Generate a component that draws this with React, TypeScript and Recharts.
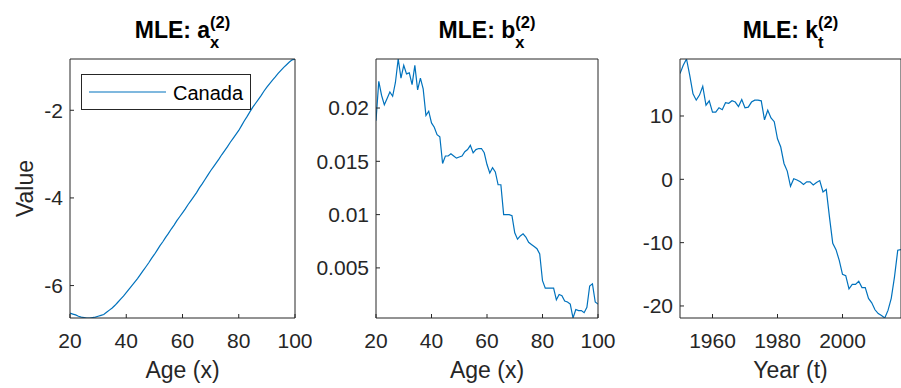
import React from 'react';
import { LineChart, Line, XAxis, YAxis, Legend } from 'recharts';

const FONT = '"Liberation Sans", Arial, Helvetica, sans-serif';
const AXIS = '#262626';
const BLUE = '#0072BD';

const ages = [20, 21, 22, 23, 24, 25, 26, 27, 28, 29, 30, 31, 32, 33, 34, 35, 36, 37, 38, 39, 40, 41, 42, 43, 44, 45, 46, 47, 48, 49, 50, 51, 52, 53, 54, 55, 56, 57, 58, 59, 60, 61, 62, 63, 64, 65, 66, 67, 68, 69, 70, 71, 72, 73, 74, 75, 76, 77, 78, 79, 80, 81, 82, 83, 84, 85, 86, 87, 88, 89, 90, 91, 92, 93, 94, 95, 96, 97, 98, 99, 100];

const ax = [-6.63, -6.65, -6.67, -6.70, -6.72, -6.73, -6.74, -6.74, -6.73, -6.72, -6.70, -6.68, -6.66, -6.61, -6.56, -6.51, -6.45, -6.38, -6.31, -6.24, -6.16, -6.08, -6.00, -5.92, -5.84, -5.75, -5.66, -5.57, -5.48, -5.38, -5.29, -5.19, -5.09, -5.00, -4.90, -4.81, -4.71, -4.62, -4.52, -4.43, -4.34, -4.25, -4.15, -4.06, -3.97, -3.88, -3.77, -3.68, -3.58, -3.48, -3.38, -3.29, -3.20, -3.11, -3.01, -2.92, -2.83, -2.73, -2.64, -2.55, -2.46, -2.35, -2.24, -2.14, -2.03, -1.93, -1.84, -1.75, -1.66, -1.56, -1.47, -1.39, -1.31, -1.24, -1.16, -1.09, -1.02, -0.96, -0.90, -0.85, -0.83];

const bx = [0.0188, 0.0225, 0.0212, 0.0203, 0.0209, 0.0215, 0.0211, 0.0224, 0.0246, 0.0228, 0.0240, 0.0232, 0.0233, 0.0222, 0.0240, 0.0217, 0.0228, 0.0218, 0.0193, 0.0197, 0.0186, 0.0182, 0.0175, 0.0173, 0.0148, 0.0155, 0.0155, 0.0157, 0.0155, 0.0153, 0.0154, 0.0155, 0.0159, 0.0161, 0.0165, 0.0158, 0.0161, 0.0162, 0.0162, 0.0158, 0.0147, 0.0139, 0.0144, 0.0140, 0.0128, 0.0128, 0.0100, 0.0100, 0.0100, 0.0099, 0.0083, 0.0077, 0.0080, 0.0082, 0.0079, 0.0074, 0.0072, 0.0070, 0.0068, 0.0063, 0.0038, 0.0031, 0.0031, 0.0031, 0.0031, 0.0020, 0.0025, 0.0024, 0.0019, 0.0018, 0.0016, 0.0003, 0.0011, 0.0010, 0.0010, 0.0008, 0.0013, 0.0033, 0.0035, 0.0018, 0.0016];

const years = [1950, 1951, 1952, 1953, 1954, 1955, 1956, 1957, 1958, 1959, 1960, 1961, 1962, 1963, 1964, 1965, 1966, 1967, 1968, 1969, 1970, 1971, 1972, 1973, 1974, 1975, 1976, 1977, 1978, 1979, 1980, 1981, 1982, 1983, 1984, 1985, 1986, 1987, 1988, 1989, 1990, 1991, 1992, 1993, 1994, 1995, 1996, 1997, 1998, 1999, 2000, 2001, 2002, 2003, 2004, 2005, 2006, 2007, 2008, 2009, 2010, 2011, 2012, 2013, 2014, 2015, 2016, 2017, 2018];

const kt = [16.7, 18.0, 19.0, 16.4, 13.5, 12.5, 13.3, 14.7, 11.7, 12.4, 10.6, 10.6, 11.3, 11.0, 12.1, 12.0, 12.4, 12.2, 11.5, 12.6, 11.3, 11.4, 12.2, 12.5, 12.5, 12.4, 9.4, 10.9, 9.7, 9.1, 6.4, 5.1, 2.5, 1.3, -1.1, 0.1, -0.1, -0.4, -0.8, -0.4, -0.4, -0.9, -0.5, -0.2, -2.0, -1.6, -6.0, -10.1, -11.1, -12.8, -15.0, -15.2, -17.3, -16.6, -16.6, -16.1, -17.1, -17.1, -18.8, -19.5, -20.6, -21.2, -21.5, -21.9, -20.7, -18.8, -15.4, -11.2, -11.1];

const ageTicks = [20, 40, 60, 80, 100];
const yearTicks = [1960, 1980, 2000];
const axTicks = [-6, -4, -2];
const bxTicks = [0.005, 0.01, 0.015, 0.02];
const ktTicks = [-20, -10, 0, 10];

const seriesName = 'Canada';

const H = 388;
const PLOT_TOP = 59;
const PLOT_BOTTOM = 318;

const toData = (xs: number[], ys: number[]) => xs.map((x, i) => ({ x, y: ys[i] }));
const ext = (v: number[]): [number, number] => [Math.min(...v), Math.max(...v)];

const renderLegend = (props: any) => {
  const label = props && props.payload && props.payload[0] ? props.payload[0].value : seriesName;
  return (
    <svg width={170} height={36} style={{ display: 'block' }}>
      <rect x={0.5} y={0.5} width={169} height={35} fill="#fff" stroke={AXIS} strokeWidth={1} />
      <line x1={8} x2={85} y1={18} y2={18} stroke={BLUE} strokeWidth={1.2} />
      <text x={92} y={25.5} fontSize={20} fontFamily={FONT} fill="#000">{label}</text>
    </svg>
  );
};

type PanelProps = {
  data: { x: number; y: number }[];
  left: number;
  width: number;
  plotLeft: number;
  plotRight: number;
  xDomain: [number, number];
  yDomain: [number, number];
  xTicks: number[];
  yTicks: number[];
  legend?: boolean;
};

function Panel(p: PanelProps) {
  const leftW = p.plotLeft - p.left;
  const rightW = 1;
  const topH = 1;
  const bottomH = 50;
  const margin = {
    top: PLOT_TOP - topH,
    bottom: H - PLOT_BOTTOM - bottomH,
    left: 0,
    right: p.left + p.width - p.plotRight - rightW,
  };
  const tickStyle = { fill: AXIS, fontSize: 21, fontFamily: FONT };
  return (
    <div style={{ position: 'absolute', left: p.left, top: 0 }}>
      <LineChart width={p.width} height={H} data={p.data} margin={margin}>
        <XAxis xAxisId="b" dataKey="x" type="number" orientation="bottom" domain={p.xDomain} ticks={p.xTicks}
          allowDataOverflow interval={0} height={bottomH} tickSize={-4} tickMargin={19} stroke={AXIS} tick={tickStyle} />
        <XAxis xAxisId="t" dataKey="x" type="number" orientation="top" domain={p.xDomain} ticks={p.xTicks}
          allowDataOverflow interval={0} height={topH} tickSize={-4} stroke={AXIS} tick={false} />
        <YAxis yAxisId="l" type="number" orientation="left" domain={p.yDomain} ticks={p.yTicks}
          allowDataOverflow interval={0} width={leftW} tickSize={-4} tickMargin={11} stroke={AXIS} tick={tickStyle} />
        <YAxis yAxisId="r" type="number" orientation="right" domain={p.yDomain} ticks={p.yTicks}
          allowDataOverflow interval={0} width={rightW} tickSize={-4} stroke={AXIS} tick={false} />
        <Line xAxisId="b" yAxisId="l" dataKey="y" name={seriesName} type="linear" stroke={BLUE} strokeWidth={1.2}
          dot={false} activeDot={false} isAnimationActive={false} />
        {p.legend ? (
          <Legend layout="horizontal" verticalAlign="middle" align="center" content={renderLegend}
            wrapperStyle={{ position: 'absolute', left: 81, top: 74, width: 170, height: 36 }} />
        ) : null}
      </LineChart>
    </div>
  );
}

function Title({ cx, base, sub, subW }: { cx: number; base: string; sub: string; subW: number }) {
  return (
    <text x={cx} y={38} textAnchor="middle" fontFamily={FONT} fontWeight="bold" fontSize={23} fill="#000">
      {'MLE: ' + base}
      <tspan fontSize={16.5} dy={10}>{sub}</tspan>
      <tspan fontSize={16.5} dx={-subW} dy={-20}>(2)</tspan>
    </text>
  );
}

export default function App() {
  return (
    <div style={{ position: 'absolute', left: 0, top: 0, width: 901, height: 388, overflow: 'hidden', background: '#fff' }}>
      <Panel data={toData(ages, ax)} left={0} width={312} plotLeft={70} plotRight={295}
        xDomain={[20, 100]} yDomain={ext(ax)} xTicks={ageTicks} yTicks={axTicks} legend />
      <Panel data={toData(ages, bx)} left={305} width={315} plotLeft={376} plotRight={598}
        xDomain={[20, 100]} yDomain={ext(bx)} xTicks={ageTicks} yTicks={bxTicks} />
      <Panel data={toData(years, kt)} left={620} width={290} plotLeft={680} plotRight={901}
        xDomain={[1950, 2018]} yDomain={ext(kt)} xTicks={yearTicks} yTicks={ktTicks} />
      <svg width={901} height={388} style={{ position: 'absolute', left: 0, top: 0, pointerEvents: 'none' }}>
        <Title cx={182.5} base="a" sub="x" subW={9.2} />
        <Title cx={487} base="b" sub="x" subW={9.2} />
        <Title cx={790.5} base="k" sub="t" subW={5.5} />
        <text transform="translate(33,188.5) rotate(-90)" textAnchor="middle" fontFamily={FONT} fontSize={23} fill={AXIS}>Value</text>
        <text x={182.5} y={378} textAnchor="middle" fontFamily={FONT} fontSize={23} fill={AXIS}>Age (x)</text>
        <text x={487} y={378} textAnchor="middle" fontFamily={FONT} fontSize={23} fill={AXIS}>Age (x)</text>
        <text x={790.5} y={378} textAnchor="middle" fontFamily={FONT} fontSize={23} fill={AXIS}>Year (t)</text>
      </svg>
    </div>
  );
}
